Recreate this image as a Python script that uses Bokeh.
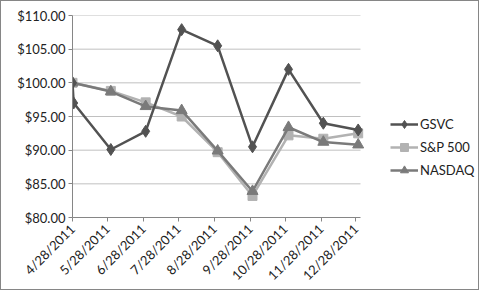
from datetime import datetime
from bokeh.plotting import figure
from bokeh.models import (ColumnDataSource, FixedTicker, DatetimeTickFormatter,
                          NumeralTickFormatter, Legend, LegendItem, Range1d)
from bokeh.embed import file_html
from bokeh.resources import INLINE
import math

def ms(s):
    return datetime.strptime(s, "%Y-%m-%d").timestamp() * 1000.0

gsvc_dates = ["2011-04-28", "2011-04-29", "2011-05-31", "2011-06-30", "2011-07-31",
              "2011-08-31", "2011-09-30", "2011-10-31", "2011-11-30", "2011-12-30"]
gsvc_values = [100.0, 97.0, 90.1, 92.8, 107.9, 105.5, 90.5, 102.0, 94.0, 93.0]

idx_dates = ["2011-04-28", "2011-05-31", "2011-06-30", "2011-07-31", "2011-08-31",
             "2011-09-30", "2011-10-31", "2011-11-30", "2011-12-30"]
sp500_values = [100.0, 98.8, 97.1, 95.0, 89.7, 83.2, 92.2, 91.7, 92.5]
nasdaq_values = [100.0, 98.7, 96.5, 95.9, 89.9, 83.9, 93.4, 91.2, 90.8]

tick_dates = ["2011-04-28", "2011-05-28", "2011-06-28", "2011-07-28", "2011-08-28",
              "2011-09-28", "2011-10-28", "2011-11-28", "2011-12-28"]
y_ticks = [80, 85, 90, 95, 100, 105, 110]

axis_start = "2011-04-28"
axis_end = "2012-01-01"

FONT = "Lato"

W, H = 479, 290
LEFT, TOP, BOTTOM = 71, 14, 74
plot_px = 288.0                 # width of the plotted area (axis span) in pixels
frame_px = W - LEFT             # frame extends to the right edge to host the legend
x0 = ms(axis_start)
x1 = ms(axis_end)
x_end_frame = x0 + (x1 - x0) * frame_px / plot_px

p = figure(width=W, height=H, output_backend="svg", toolbar_location=None,
           x_axis_type="datetime",
           x_range=Range1d(x0, x_end_frame),
           y_range=Range1d(80, 110),
           min_border_left=LEFT, min_border_right=0, min_border_top=TOP,
           min_border_bottom=BOTTOM)
p.styles = {"border": "1px solid #868686"}
p.outline_line_color = None
p.background_fill_color = "white"
p.border_fill_color = "white"

# horizontal gridlines limited to the axis span
gy = y_ticks[1:]
p.segment(x0=[x0] * len(gy), x1=[x1] * len(gy), y0=gy, y1=gy,
          line_color="#c0c0c0", line_width=1)

gs = ColumnDataSource(dict(x=[ms(d) for d in gsvc_dates], y=gsvc_values))
src = ColumnDataSource(dict(x=[ms(d) for d in idx_dates], sp=sp500_values, nq=nasdaq_values))

c_g, c_s, c_n = "#525252", "#b2b2b2", "#7a7a7a"

l_s = p.line("x", "sp", source=src, line_color=c_s, line_width=2.5)
m_s = p.scatter("x", "sp", source=src, marker="square", size=9, color=c_s)
l_n = p.line("x", "nq", source=src, line_color=c_n, line_width=2.5)
m_n = p.scatter("x", "nq", source=src, marker="triangle", size=11, color=c_n)
l_g = p.line("x", "y", source=gs, line_color=c_g, line_width=2.5)
m_g = p.scatter("x", "y", source=gs, marker="diamond", size=12, color=c_g)

p.xaxis.ticker = FixedTicker(ticks=[ms(d) for d in tick_dates])
p.xaxis.formatter = DatetimeTickFormatter(days="%-m/%-d/%Y", months="%-m/%-d/%Y",
                                          years="%-m/%-d/%Y")
p.xaxis.major_label_orientation = math.pi / 4
p.xaxis.bounds = (x0, x1)
p.yaxis.ticker = FixedTicker(ticks=y_ticks)
p.yaxis.formatter = NumeralTickFormatter(format="$0.00")

for ax in (p.xaxis, p.yaxis):
    ax.axis_line_color = "#868686"
    ax.major_tick_line_color = "#868686"
    ax.minor_tick_line_color = None
    ax.major_tick_in = 0
    ax.major_tick_out = 4
    ax.major_label_text_font = FONT
    ax.major_label_text_font_size = "13px"
    ax.major_label_text_color = "#222222"
p.yaxis.major_label_standoff = 3
p.xaxis.major_label_standoff = 5

p.xgrid.grid_line_color = None
p.ygrid.grid_line_color = None

legend = Legend(items=[LegendItem(label="GSVC", renderers=[l_g, m_g]),
                       LegendItem(label="S&P 500", renderers=[l_s, m_s]),
                       LegendItem(label="NASDAQ", renderers=[l_n, m_n])],
                location=(318, 37), orientation="vertical",
                label_text_font=FONT, label_text_font_size="13px", label_text_color="#222222",
                glyph_width=28, glyph_height=20, label_height=20, spacing=3,
                padding=0, margin=0, label_standoff=2,
                border_line_color=None, background_fill_alpha=0)
p.add_layout(legend, "center")

open("out.html", "w").write(file_html(p, INLINE))
